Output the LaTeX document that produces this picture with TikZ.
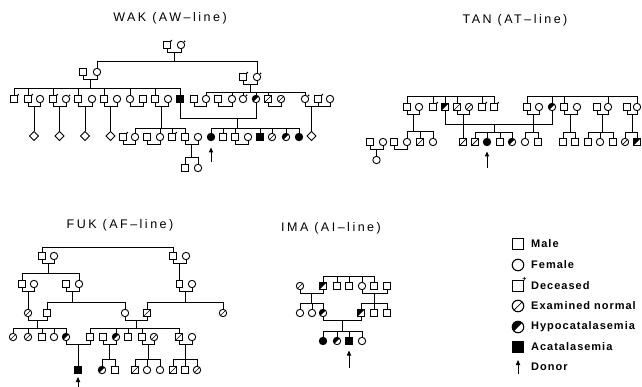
\documentclass[tikz,border=0pt]{standalone}
\usepackage{fontspec}
\setmainfont{Liberation Sans}
\newfontfamily\titlefont[LetterSpace=20]{Liberation Sans}
\newfontfamily\legfont[LetterSpace=9]{Liberation Sans Bold}
\usetikzlibrary{shapes.geometric,arrows.meta,calc}

\newcommand\Umar[3]{%
  \draw[ln] (#1.south) -- ++(0,4) -| (#2.south);
  \coordinate (#3) at ($(#1.south)!.5!(#2.south)+(0,4)$);}
\newcommand\Sib[3]{%
  \coordinate (sibtmp) at (#1 |- 0,#2);
  \draw[ln] (#1) -- (sibtmp);
  \foreach \kid in {#3} {\draw[ln] (sibtmp) -| (\kid.north);}}

\tikzset{
  ln/.style={line width=0.9pt},
  ind/.style={draw, line width=0.9pt, inner sep=0pt, outer sep=0pt, fill=white},
  M/.style={ind, rectangle, minimum size=6.8pt},
  F/.style={ind, circle, minimum size=7.4pt},
  U/.style={ind, diamond, minimum width=9pt, minimum height=9pt},
  dec/.style={label={[circle,fill=black,inner sep=0pt,minimum size=1.8pt,label distance=0.3pt]45:{}}},
  nrm/.style={path picture={\draw[black,line width=0.7pt] (path picture bounding box.south west) -- (path picture bounding box.north east);}},
  hyp/.style={path picture={\fill[black] (path picture bounding box.south west) -- (path picture bounding box.north east) -- (path picture bounding box.north west) -- cycle;}},
  aca/.style={fill=black},
  BM/.style={M, minimum size=10.5pt, line width=1.1pt},
  BF/.style={F, minimum size=11.5pt, line width=1.1pt},
  bigdec/.style={label={[font=\bfseries\scriptsize,inner sep=0pt,label distance=-1.5pt]45:+}},
  donor/.style={line width=1pt, -{Triangle[width=4.2pt,length=5pt]}},
  title/.style={font=\titlefont\fontsize{12.5}{14}\selectfont, inner sep=0pt},
  leg/.style={font=\legfont\fontsize{11}{13}\selectfont, anchor=west, inner sep=0pt},
}

\begin{document}
\begin{tikzpicture}[x=1pt,y=-1pt]
\useasboundingbox[fill=white] (0,0) rectangle (642,387);

% ---------- titles ----------
\node[title] (tW) at (170,18) {WAK (AW–line)};
\node[title] (tT) at (515,20) {TAN (AT–line)};
\node[title] (tF) at (120,225) {FUK (AF–line)};
\node[title] (tI) at (331,228) {IMA (AI–line)};

% ================= WAK =================
\node[M,dec] (w1) at (167,45) {};
\node[F,dec] (w2) at (181,45) {};
\Umar{w1}{w2}{wm1}
\node[M] (w3) at (83,72) {};
\node[F] (w4) at (97,72) {};
\node[M,dec] (w5) at (243,77) {};
\node[F,dec] (w6) at (257,77) {};
\Sib{wm1}{61}{w4,w6}
\Umar{w3}{w4}{wm2}
\Umar{w5}{w6}{wm3}

% generation 3, left sibship
\node[M,dec] (a01) at (14,99) {};
\node[M,dec] (a02) at (28,99) {};
\node[F] (a03) at (40,99) {};
\node[M,dec] (a04) at (53,99) {};
\node[F,dec] (a05) at (66,99) {};
\node[M] (a06) at (78,99) {};
\node[F] (a07) at (92,99) {};
\node[M] (a08) at (104,99) {};
\node[F] (a09) at (117,99) {};
\node[F] (a10) at (130,99) {};
\node[M] (a11) at (143,99) {};
\node[M] (a12) at (155,99) {};
\node[F] (a13) at (168,99) {};
\node[M,aca] (a14) at (180,99) {};
\Sib{wm2}{88}{a01,a02,a04,a06,a08,a10,a12,a14}
\Umar{a02}{a03}{am1}
\Umar{a04}{a05}{am2}
\Umar{a06}{a07}{am3}
\Umar{a08}{a09}{am4}
\Umar{a10}{a11}{am5}
\Umar{a12}{a13}{am6}
\node[U] (d1) at (34,136) {};
\node[U] (d2) at (59.5,136) {};
\node[U] (d3) at (85,136) {};
\node[U] (d4) at (110.5,136) {};
\draw[ln] (am1) -- (d1.north);
\draw[ln] (am2) -- (d2.north);
\draw[ln] (am3) -- (d3.north);
\draw[ln] (am4) -- (d4.north);

% generation 3, right sibship
\node[M] (r01) at (194,99) {};
\node[F] (r02) at (206,99) {};
\node[M] (r03) at (218,99) {};
\node[F] (r04) at (232,99) {};
\node[F,dec] (r05) at (243,99) {};
\node[F,hyp] (r06) at (256,99) {};
\node[M,nrm] (r07) at (268,99) {};
\node[F,nrm] (r08) at (281,99) {};
\node[F,dec] (r09) at (305,99) {};
\node[M,dec] (r10) at (318,99) {};
\node[F] (r11) at (330,99) {};
\Sib{wm3}{92}{r02,r04,r05,r06,r07,r09}
\Umar{r01}{r02}{rm1}
\Umar{r03}{r04}{rm2}
\Umar{r07}{r08}{rm3}
\draw[ln] (r09.south) -- ++(0,4) -| (r11.south);
\draw[ln] (r10.south) -- ++(0,4);
\coordinate (rm4) at ($(r09.south)!.5!(r10.south)+(0,4)$);
\node[U] (d5) at (311.5,136) {};
\draw[ln] (rm4) -- (d5.north);

% marriage a14 x r06
\draw[ln] (a14.south) -- (a14.south |- 0,118) -| (r06.south);
\coordinate (wm5) at (237,118);

% generation 4 left
\node[M,dec] (b01) at (123,137) {};
\node[F] (b02) at (135,137) {};
\node[M] (b03) at (147,137) {};
\node[F] (b04) at (160,137) {};
\node[M,dec] (b05) at (172,137) {};
\node[M] (b06) at (185,137) {};
\node[F] (b07) at (198,137) {};
\Sib{am6}{128}{b02,b04,b05,b06}
\Umar{b01}{b02}{bm1}
\Umar{b03}{b04}{bm2}
\Umar{b06}{b07}{bm3}
\node[M] (e1) at (185,168) {};
\node[F] (e2) at (198,168) {};
\Sib{bm3}{157}{e1,e2}

% generation 4 right
\node[F,aca] (c01) at (211,137) {};
\node[M] (c02) at (223,137) {};
\node[M] (c03) at (235,137) {};
\node[F] (c04) at (248,137) {};
\node[M,aca] (c05) at (260,137) {};
\node[F,nrm] (c06) at (272,137) {};
\node[F,hyp] (c07) at (286,137) {};
\node[F,aca] (c08) at (299,137) {};
\Sib{wm5}{128}{c01,c02,c03,c05,c06,c07,c08}
\Umar{c03}{c04}{cm1}
\coordinate (wa1) at (211,162);
\coordinate (wa2) at (211,147.5);
\draw[donor] (wa1) -- (wa2);

% ================= TAN =================
\node[M] (t01) at (407,107) {};
\node[F] (t02) at (419,107) {};
\node[M,dec] (t03) at (433,107) {};
\node[M,hyp] (t04) at (445,107) {};
\node[M,nrm] (t05) at (457,107) {};
\node[F,nrm] (t06) at (469,107) {};
\node[M,dec] (t07) at (482,107) {};
\node[M,dec] (t08) at (494,107) {};
\node[M] (t09) at (527,107) {};
\node[F] (t10) at (539,107) {};
\node[F,hyp] (t11) at (552,107) {};
\node[M] (t12) at (564,107) {};
\node[F] (t13) at (577,107) {};
\node[M] (t14) at (597,107) {};
\node[F] (t15) at (608,107) {};
\node[M] (t16) at (627,107) {};
\node[F] (t17) at (637,107) {};
\coordinate (tL) at (450,96);
\foreach \kid in {t01,t03,t04,t05,t07,t08} {\draw[ln] (tL) -| (\kid.north);}
\coordinate (tR) at (580,96);
\foreach \kid in {t09,t11,t12,t15,t17} {\draw[ln] (tR) -| (\kid.north);}

\node[M] (u01) at (370,142) {};
\node[F] (u02) at (383,142) {};
\node[M] (u03) at (394,142) {};
\node[F] (u04) at (407,142) {};
\node[M,nrm] (u05) at (420,142) {};
\node[F] (u06) at (433,142) {};
\node[M,nrm] (u08) at (463,142) {};
\node[M,nrm] (u09) at (475,142) {};
\node[F,aca] (u10) at (487,142) {};
\node[M] (u11) at (500,142) {};
\node[F,hyp] (u12) at (512,142) {};
\node[F] (u13) at (525,142) {};
\node[M] (u14) at (538,142) {};
\node[M] (u15) at (563,142) {};
\node[M] (u16) at (575,142) {};
\node[M] (u17) at (588,142) {};
\node[F] (u18) at (600,142) {};
\node[M] (u19) at (613,142) {};
\node[F,nrm] (u20) at (625,142) {};
\node[M,hyp] (u21) at (637,142) {};

\Umar{t01}{t02}{tm1}
\Sib{tm1}{131}{u04,u05,u06}
\Umar{t05}{t06}{tm2}
\draw[ln] (t04.south) -- (t04.south |- 0,124) -| (t11.south);
\coordinate (tm3) at (494,124);
\Sib{tm3}{132}{u09,u10,u11,u12}
\draw[ln] (tm2) -- (u08.north);
\Umar{t09}{t10}{tm4}
\Sib{tm4}{132}{u13,u14}
\Umar{t12}{t13}{tm5}
\Sib{tm5}{132}{u15,u16}
\Umar{t14}{t15}{tm6}
\Sib{tm6}{132}{u17,u18,u19}
\Umar{t16}{t17}{tm7}
\Sib{tm7}{132}{u20,u21}

\Umar{u01}{u02}{um1}
\Umar{u03}{u04}{um2}
\node[F] (v1) at (376.5,160) {};
\draw[ln] (um1) -- (v1.north);
\coordinate (ta1) at (487,168);
\coordinate (ta2) at (487,151.5);
\draw[donor] (ta1) -- (ta2);

% ================= FUK =================
\node[M] (f01) at (42,256) {};
\node[F] (f02) at (54,256) {};
\node[M] (f03) at (173,256) {};
\node[F] (f04) at (186,256) {};
\coordinate (fT) at (100,247);
\draw[ln] (fT) -| (f01.north);
\draw[ln] (fT) -| (f03.north);
\Umar{f01}{f02}{fm1}
\Umar{f03}{f04}{fm2}

\node[M] (g01) at (22,284) {};
\node[F] (g02) at (34,284) {};
\node[M] (g03) at (66,284) {};
\node[F] (g04) at (79,284) {};
\node[M] (g05) at (179.5,284) {};
\node[F] (g06) at (192,284) {};
\Sib{fm1}{273}{g01,g04}
\draw[ln] (fm2) -- (g05.north);
\Umar{g01}{g02}{gm1}
\Umar{g03}{g04}{gm2}
\Umar{g05}{g06}{gm3}

\node[F,nrm] (h01) at (28,313) {};
\node[M] (h02) at (47,313) {};
\node[F] (h03) at (125,313) {};
\node[M,nrm] (h04) at (147,313) {};
\node[F,nrm] (h05) at (223,313) {};
\draw[ln] (gm1) -- (h01.north);
\Sib{gm2}{302}{h02,h03}
\Sib{gm3}{302}{h04,h05}
\Umar{h01}{h02}{hm1}
\Umar{h03}{h04}{hm2}

\node[F,nrm] (i01) at (13,337) {};
\node[F,nrm] (i02) at (28,337) {};
\node[M] (i03) at (42,337) {};
\node[F] (i04) at (54,337) {};
\node[F,hyp] (i05) at (66,337) {};
\node[M] (i06) at (90,337) {};
\node[M] (i07) at (103,337) {};
\node[F,hyp] (i08) at (116,337) {};
\node[M] (i09) at (128,337) {};
\node[M] (i10) at (142,337) {};
\node[F,nrm] (i11) at (154,337) {};
\node[M,nrm] (i12) at (179,337) {};
\node[F] (i13) at (192,337) {};
\Sib{hm1}{328}{i01,i02,i03,i04,i05}
\Sib{hm2}{328}{i06,i08,i09,i10,i12}
\Umar{i05}{i06}{im1}
\Umar{i07}{i08}{im2}
\Umar{i10}{i11}{im3}
\Umar{i12}{i13}{im4}

\node[M,aca] (j01) at (78,370) {};
\node[F,hyp] (j02) at (102,370) {};
\node[M] (j03) at (115,370) {};
\node[M,nrm] (j04) at (135,370) {};
\node[F] (j05) at (147,370) {};
\node[F] (j06) at (160,370) {};
\node[M,nrm] (j07) at (173,370) {};
\node[M] (j08) at (185,370) {};
\node[F,nrm] (j09) at (197,370) {};
\draw[ln] (im1) -- (j01.north);
\Sib{im2}{359}{j02,j03}
\Sib{im3}{359}{j04,j05,j06}
\Sib{im4}{359}{j07,j08,j09}
\coordinate (fa1) at (78,388);
\coordinate (fa2) at (78,377);
\draw[donor] (fa1) -- (fa2);

% ================= IMA =================
\node[F,nrm] (k01) at (300,286) {};
\node[M,hyp] (k02) at (323,286) {};
\node[M] (k03) at (337,286) {};
\node[M] (k04) at (349,286) {};
\node[F] (k05) at (362,286) {};
\node[M] (k06) at (374,286) {};
\node[M] (k07) at (387,286) {};
\coordinate (kT) at (349,276);
\foreach \kid in {k02,k03,k04,k05,k06} {\draw[ln] (kT) -| (\kid.north);}
\Umar{k01}{k02}{km1}
\draw[ln] (k05.south) -- ++(0,4) -| (k07.south);
\coordinate (km2) at ($(k05.south)!.5!(k07.south)+(0,4)$);

\node[F] (l01) at (300,313) {};
\node[F] (l02) at (312,313) {};
\node[F,hyp] (l03) at (323,313) {};
\node[M,hyp] (l04) at (361,313) {};
\node[M] (l05) at (374,313) {};
\node[M] (l06) at (387,313) {};
\Sib{km1}{303}{l01,l02,l03}
\Sib{km2}{303}{l04,l05,l06}
\Umar{l03}{l04}{lm1}

\node[F,aca] (m01) at (323,341) {};
\node[F,hyp] (m02) at (337,341) {};
\node[M,aca] (m03) at (349,341) {};
\node[F] (m04) at (362,341) {};
\Sib{lm1}{331}{m01,m02,m03,m04}
\coordinate (ia1) at (349,368);
\coordinate (ia2) at (349,350.5);
\draw[donor] (ia1) -- (ia2);

% ================= legend =================
\node[BM] (LM) at (518,244) {};
\node[leg] (LMt) at (531,244) {Male};
\node[BF] (LF) at (518,265) {};
\node[leg] (LFt) at (531,265) {Female};
\node[BM,bigdec] (LD) at (518,286) {};
\node[leg] (LDt) at (531,286) {Deceased};
\node[BF,nrm] (LN) at (518,306) {};
\node[leg] (LNt) at (531,306) {Examined normal};
\node[BF,hyp] (LH) at (518,327) {};
\node[leg] (LHt) at (531,327) {Hypocatalasemia};
\node[BM,aca] (LA) at (518,347) {};
\node[leg] (LAt) at (531,347) {Acatalasemia};
\coordinate (La1) at (518,374);
\coordinate (La2) at (518,360);
\draw[donor] (La1) -- (La2);
\node[leg] (LRt) at (531,367) {Donor};
\end{tikzpicture}
\end{document}
